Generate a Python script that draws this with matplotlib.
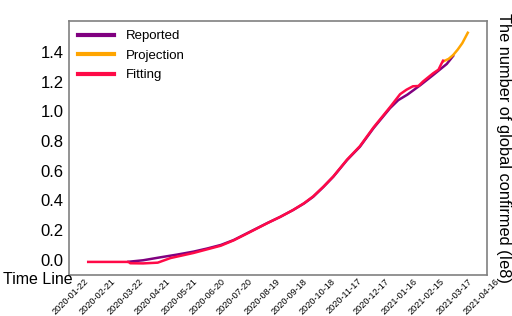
import matplotlib
matplotlib.use("Agg")
import matplotlib.pyplot as plt
import numpy as np

plt.rcParams['font.family'] = ['Liberation Sans', 'DejaVu Sans']

# Day index from 2020-01-22
reported_days = [64, 80, 99, 117, 135, 150, 165, 179, 197, 216, 230, 244, 256, 266, 277,
                 288, 303, 317, 332, 350, 359, 369, 383, 397, 412, 419]
reported_vals = [-0.012, -0.002, 0.018, 0.036, 0.056, 0.077, 0.101, 0.134, 0.19, 0.249, 0.29,
                 0.336, 0.38, 0.425, 0.49, 0.56, 0.672, 0.761, 0.887, 1.021, 1.075, 1.112,
                 1.175, 1.243, 1.318, 1.372]

projection_days = [408, 414, 419, 424, 429, 435]
projection_vals = [1.335, 1.352, 1.378, 1.415, 1.458, 1.528]

fitting_days = [20, 64, 66, 80, 96, 110, 135, 165, 179, 197, 216, 230, 244, 256, 266, 277,
                288, 303, 317, 332, 350, 361, 368, 375, 381, 386, 397, 403, 406, 408]
fitting_vals = [-0.013, -0.013, -0.022, -0.023, -0.018, 0.013, 0.047, 0.096, 0.132, 0.188,
                0.248, 0.29, 0.336, 0.382, 0.428, 0.492, 0.562, 0.675, 0.765, 0.892, 1.028,
                1.115, 1.145, 1.168, 1.17, 1.2, 1.255, 1.28, 1.318, 1.34]

tick_days = list(range(0, 451, 30))
tick_labels = ['2020-01-22', '2020-02-21', '2020-03-22', '2020-04-21', '2020-05-21',
               '2020-06-20', '2020-07-20', '2020-08-19', '2020-09-18', '2020-10-18',
               '2020-11-17', '2020-12-17', '2021-01-16', '2021-02-15', '2021-03-17',
               '2021-04-16']
y_ticks = [0.0, 0.2, 0.4, 0.6, 0.8, 1.0, 1.2, 1.4]

fig = plt.figure(figsize=(5.12, 3.16), dpi=100)
ax = fig.add_axes([69/512, 41/316, 418/512, 254/316])

ax.plot(reported_days, reported_vals, color='#800080', lw=1.8, label='Reported')
ax.plot(projection_days, projection_vals, color='#FFA500', lw=1.8, label='Projection')
ax.plot(fitting_days, fitting_vals, color='#FF0A47', lw=1.8, label='Fitting')

ax.set_xlim(-1, 456)
ax.set_ylim(-0.101, 1.607)
ax.set_xticks(tick_days)
ax.set_xticklabels(tick_labels, rotation=45, fontsize=6.6, ha='center')
ax.set_yticks(y_ticks)
ax.set_yticklabels([f'{v:.1f}' for v in y_ticks], fontsize=12)
ax.tick_params(axis='both', length=0)
ax.tick_params(axis='y', pad=4)
ax.tick_params(axis='x', pad=1.2)
for s in ax.spines.values():
    s.set_color('#808080')
    s.set_linewidth(1.2)

leg = ax.legend(loc='upper left', frameon=False, fontsize=9.5, handlelength=2.7,
                handletextpad=0.9, labelspacing=0.55, borderaxespad=0.3)
for h in leg.get_lines():
    h.set_linewidth(3)

fig.text(3/512, 1 - 280/316, 'Time Line', fontsize=11.5, ha='left', va='center')
fig.text(504/512, 1 - 148/316, 'The number of global confirmed (Ie8)', fontsize=11.8,
         rotation=-90, ha='center', va='center')

fig.savefig('out.png', dpi=100)
